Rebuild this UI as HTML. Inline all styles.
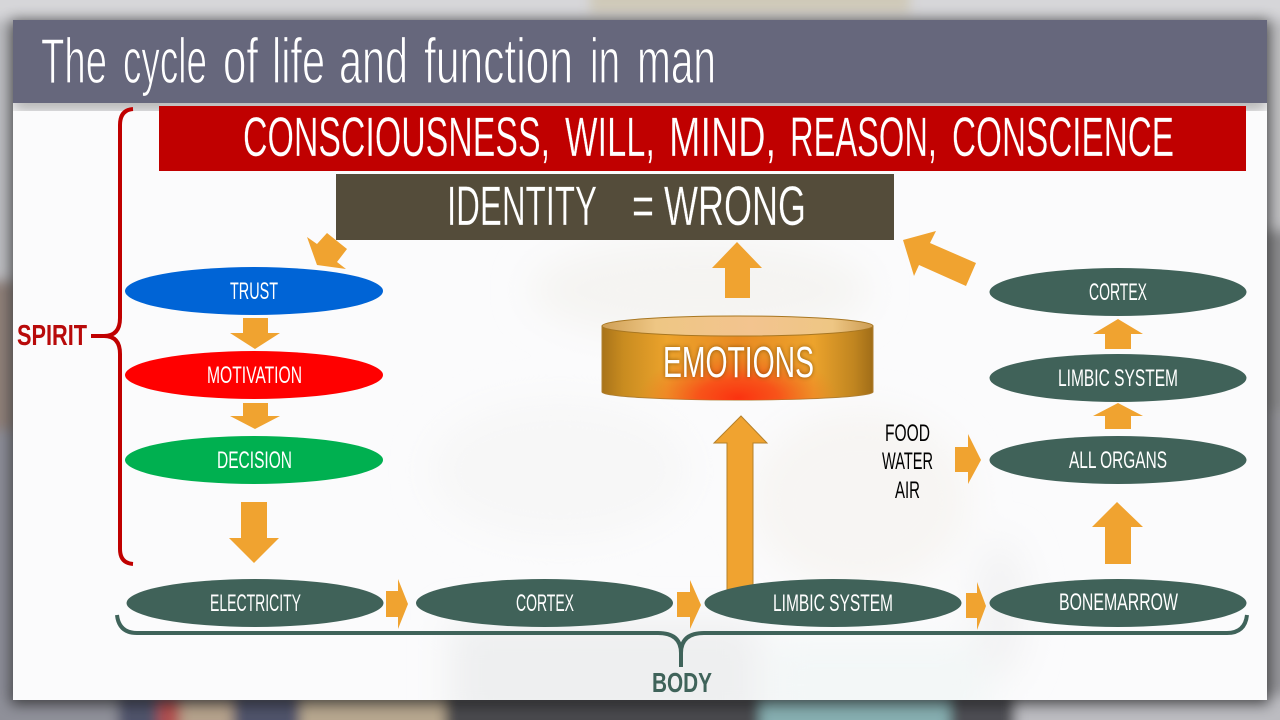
<!DOCTYPE html>
<html><head><meta charset="utf-8"><style>
html,body{margin:0;padding:0;width:1280px;height:720px;overflow:hidden;background:#b8b8bc}
svg{display:block}
text{font-family:"Liberation Sans",sans-serif}
</style></head><body>
<svg width="1280" height="720" viewBox="0 0 1280 720" xmlns="http://www.w3.org/2000/svg">
<defs>
<filter id="b" x="-20%" y="-20%" width="140%" height="140%"><feGaussianBlur stdDeviation="6"/></filter>
<filter id="b2" x="-20%" y="-20%" width="140%" height="140%"><feGaussianBlur stdDeviation="18"/></filter>
<filter id="sh" x="-5%" y="-5%" width="110%" height="110%"><feGaussianBlur stdDeviation="7"/></filter>
<filter id="g" x="-10%" y="-30%" width="120%" height="160%"><feGaussianBlur stdDeviation="2"/></filter>
<clipPath id="slide"><rect x="13" y="103" width="1254" height="597"/></clipPath>
<linearGradient id="cyl" x1="0" x2="1" y1="0" y2="0">
<stop offset="0" stop-color="#a8731a"/><stop offset=".08" stop-color="#c98c20"/><stop offset=".24" stop-color="#eca32c"/><stop offset=".5" stop-color="#e88a22"/><stop offset=".78" stop-color="#eca32c"/><stop offset=".93" stop-color="#c08520"/><stop offset="1" stop-color="#a06d18"/>
</linearGradient>
<linearGradient id="top" x1="0" x2="1" y1="0" y2="0">
<stop offset="0" stop-color="#cf9f55"/><stop offset=".2" stop-color="#eec684"/><stop offset=".55" stop-color="#f3c48f"/><stop offset=".85" stop-color="#eec684"/><stop offset="1" stop-color="#cc9c52"/>
</linearGradient>
<radialGradient id="red" gradientUnits="userSpaceOnUse" cx="738" cy="398" r="100" gradientTransform="translate(738 398) scale(1 .48) translate(-738 -398)">
<stop offset="0" stop-color="#fb3210"/><stop offset=".4" stop-color="#f94c18" stop-opacity=".9"/><stop offset="1" stop-color="#f07a20" stop-opacity="0"/>
</radialGradient>
</defs>

<!-- blurred surroundings -->
<rect width="1280" height="720" fill="#bdbdc1"/>
<g filter="url(#b)">
<rect x="-20" y="-20" width="1320" height="50" fill="#d6d6d9"/>
<rect x="590" y="-20" width="320" height="34" fill="#cfc9b8"/>
<rect x="-20" y="20" width="36" height="260" fill="#bbbcc0"/>
<rect x="-20" y="280" width="36" height="150" fill="#8f8079"/>
<rect x="-20" y="430" width="36" height="300" fill="#8c8d97"/>
<rect x="1262" y="20" width="40" height="210" fill="#c0c0c2"/>
<rect x="1262" y="230" width="40" height="180" fill="#8b8b8d"/>
<rect x="1262" y="410" width="40" height="320" fill="#95959a"/>
<rect x="-20" y="695" width="140" height="40" fill="#8f9099"/>
<rect x="118" y="695" width="182" height="40" fill="#50536a"/>
<rect x="158" y="698" width="75" height="34" fill="#b5a28c"/>
<rect x="158" y="698" width="22" height="34" fill="#b05050"/>
<rect x="300" y="695" width="145" height="40" fill="#b7a78f"/>
<rect x="445" y="695" width="315" height="40" fill="#4a4a4e"/>
<rect x="760" y="695" width="190" height="40" fill="#86aeb0"/>
<rect x="950" y="695" width="65" height="40" fill="#4e4e52"/>
<rect x="1015" y="695" width="285" height="40" fill="#bcbcc1"/>
</g>
<!-- slide shadow -->
<rect x="11" y="20" width="1258" height="684" fill="#000" opacity=".62" filter="url(#sh)"/>
<!-- slide -->
<rect x="13" y="100" width="1254" height="600" fill="#fbfbfc"/>
<g clip-path="url(#slide)">
<g filter="url(#b2)">
<ellipse cx="700" cy="290" rx="170" ry="50" fill="#f5f4f2"/>
<ellipse cx="860" cy="500" rx="110" ry="90" fill="#f7f5f3"/>
<rect x="450" y="620" width="310" height="110" fill="#eeeff0"/>
<rect x="770" y="640" width="220" height="90" fill="#f3f7f7"/>
<ellipse cx="560" cy="470" rx="130" ry="70" fill="#f7f7f7"/>
<ellipse cx="1000" cy="610" rx="25" ry="70" fill="#f2f2f3"/>
</g>
<rect x="13" y="94" width="1254" height="16" fill="#000" opacity=".32" filter="url(#sh)"/>
</g>
<!-- title bar -->
<rect x="13" y="20" width="1254" height="83" fill="#66677c"/>
<g font-size="64" fill="#fff" stroke="#66677c" stroke-width="1.200">
<text x="41" y="83" textLength="66" lengthAdjust="spacingAndGlyphs">The</text>
<text x="123" y="83" textLength="84" lengthAdjust="spacingAndGlyphs">cycle</text>
<text x="223" y="83" textLength="35" lengthAdjust="spacingAndGlyphs">of</text>
<text x="272" y="83" textLength="53" lengthAdjust="spacingAndGlyphs">life</text>
<text x="339" y="83" textLength="69" lengthAdjust="spacingAndGlyphs">and</text>
<text x="424" y="83" textLength="149" lengthAdjust="spacingAndGlyphs">function</text>
<text x="590" y="83" textLength="30" lengthAdjust="spacingAndGlyphs">in</text>
<text x="637" y="83" textLength="79" lengthAdjust="spacingAndGlyphs">man</text>
</g>

<!-- red bar -->
<rect x="159" y="106" width="1087" height="65" fill="#c00000"/>
<g font-size="56" fill="#fff" stroke="#c00000" stroke-width=".3">
<text x="243" y="156" textLength="307" lengthAdjust="spacingAndGlyphs">CONSCIOUSNESS,</text>
<text x="565" y="156" textLength="90" lengthAdjust="spacingAndGlyphs">WILL,</text>
<text x="669" y="156" textLength="107" lengthAdjust="spacingAndGlyphs">MIND,</text>
<text x="790" y="156" textLength="147" lengthAdjust="spacingAndGlyphs">REASON,</text>
<text x="952" y="156" textLength="222" lengthAdjust="spacingAndGlyphs">CONSCIENCE</text>
</g>

<!-- trust arrow (under identity box) -->
<polygon points="307,237 317,244 327,233 347,249 337,262 346,269 317,265" fill="#f0a330"/>

<!-- identity -->
<rect x="336" y="174" width="558" height="66" fill="#544c3a"/>
<text x="447" y="225" font-size="56" fill="#fff" stroke="#544c3a" stroke-width=".3" textLength="150" lengthAdjust="spacingAndGlyphs">IDENTITY</text>
<text x="632" y="225" font-size="56" fill="#fff" stroke="#544c3a" stroke-width=".3" textLength="22" lengthAdjust="spacingAndGlyphs">=</text>
<text x="664" y="225" font-size="56" fill="#fff" stroke="#544c3a" stroke-width=".3" textLength="142" lengthAdjust="spacingAndGlyphs">WRONG</text>

<!-- brackets -->
<path d="M133,109 Q120,110 120,125 L120,318 Q120,336 104,336 L91,336 M104,336 Q120,336 120,354 L120,549 Q120,563 133,564" fill="none" stroke="#c00000" stroke-width="4"/>
<text x="17" y="345" font-size="29" font-weight="bold" fill="#b80a0a" textLength="70" lengthAdjust="spacingAndGlyphs">SPIRIT</text>
<path d="M117,615 Q119,633 137,633 L658,633 Q681,633 681,653 Q681,633 704,633 L1227,633 Q1245,633 1247,615 M681,650 L681,667" fill="none" stroke="#3f635a" stroke-width="4"/>
<text x="652" y="692" font-size="28" font-weight="bold" fill="#3f635a" textLength="60" lengthAdjust="spacingAndGlyphs">BODY</text>

<!-- big arrow to emotions -->
<polygon points="741,416 767,443 753,443 753,592 727,592 727,443 714,443" fill="#f0a330" stroke="#b5802a" stroke-width="1"/>

<!-- ellipses -->
<g>
<ellipse cx="254" cy="291" rx="129" ry="24" fill="#0064d6"/>
<ellipse cx="254" cy="375" rx="129" ry="24" fill="#ff0000"/>
<ellipse cx="254" cy="460" rx="129" ry="24" fill="#00b050"/>
<ellipse cx="1118" cy="292" rx="128.500" ry="24" fill="#406259"/>
<ellipse cx="1118" cy="378" rx="128.500" ry="24" fill="#406259"/>
<ellipse cx="1118" cy="460" rx="128.500" ry="24" fill="#406259"/>
<ellipse cx="255" cy="603" rx="128.500" ry="24" fill="#406259"/>
<ellipse cx="544.500" cy="603" rx="128.500" ry="24" fill="#406259"/>
<ellipse cx="833" cy="603" rx="128.500" ry="24" fill="#406259"/>
<ellipse cx="1118" cy="603" rx="128.500" ry="24" fill="#406259"/>
</g>
<g font-size="24" fill="#fff">
<text x="230" y="299" textLength="48" lengthAdjust="spacingAndGlyphs">TRUST</text>
<text x="207" y="383" textLength="95" lengthAdjust="spacingAndGlyphs">MOTIVATION</text>
<text x="217" y="468" textLength="75" lengthAdjust="spacingAndGlyphs">DECISION</text>
<text x="1089" y="300" textLength="58" lengthAdjust="spacingAndGlyphs">CORTEX</text>
<text x="1058" y="386" textLength="120" lengthAdjust="spacingAndGlyphs">LIMBIC SYSTEM</text>
<text x="1069" y="468" textLength="98" lengthAdjust="spacingAndGlyphs">ALL ORGANS</text>
<text x="210" y="611" textLength="91" lengthAdjust="spacingAndGlyphs">ELECTRICITY</text>
<text x="516" y="611" textLength="58" lengthAdjust="spacingAndGlyphs">CORTEX</text>
<text x="773" y="611" textLength="120" lengthAdjust="spacingAndGlyphs">LIMBIC SYSTEM</text>
<text x="1059" y="610" textLength="119" lengthAdjust="spacingAndGlyphs">BONEMARROW</text>
</g>

<!-- arrows -->
<g fill="#f0a330">
<polygon points="243,318 268,318 268,333 280,333 255,349 230,333 243,333"/>
<polygon points="243,403 268,403 268,416 280,416 255,429 230,416 243,416"/>
<polygon points="241,502 267,502 267,538 279,538 254,563 229,538 241,538"/>
<polygon points="737,242 762,268 750,268 750,298 725,298 725,268 712,268"/>
<polygon points="903,240 936,231 930,243 976,263 966,286 919,265 914,276"/>
<polygon points="955,447 968,447 968,434 981,460 968,484 968,472 955,472"/>
<polygon points="386,591 398,591 398,579 408,604 398,629 398,617 386,617"/>
<polygon points="677,592 690,592 690,580 701,605 690,629 690,617 677,617"/>
<polygon points="966,593 977,593 977,582 986,606 977,630 977,618 966,618"/>
<polygon points="1117,502 1143,527 1131,527 1131,564 1105,564 1105,527 1092,527"/>
<polygon points="1118,403 1143,416 1131,416 1131,429 1105,429 1105,416 1093,416"/>
<polygon points="1118,319 1143,334 1131,334 1131,349 1105,349 1105,334 1093,334"/>
</g>

<!-- food water air -->
<g font-size="24" fill="#000">
<text x="885" y="441" textLength="45" lengthAdjust="spacingAndGlyphs">FOOD</text>
<text x="882" y="469" textLength="51" lengthAdjust="spacingAndGlyphs">WATER</text>
<text x="895" y="498" textLength="25" lengthAdjust="spacingAndGlyphs">AIR</text>
</g>

<!-- cylinder -->
<path d="M602,326 L602,392 A135.500,8 0 0 0 873,392 L873,326 Z" fill="url(#cyl)" stroke="#b07f30" stroke-width="1"/>
<path d="M602,326 L602,392 A135.500,8 0 0 0 873,392 L873,326 Z" fill="url(#red)"/>
<ellipse cx="737.500" cy="326" rx="135.500" ry="10" fill="url(#top)" stroke="#a87722" stroke-width="1"/>
<text x="663" y="377" font-size="44" fill="#6b3f10" opacity=".75" filter="url(#g)" textLength="151" lengthAdjust="spacingAndGlyphs">EMOTIONS</text>
<text x="663" y="377" font-size="44" fill="#fff" textLength="151" lengthAdjust="spacingAndGlyphs">EMOTIONS</text>
</svg>
</body></html>
